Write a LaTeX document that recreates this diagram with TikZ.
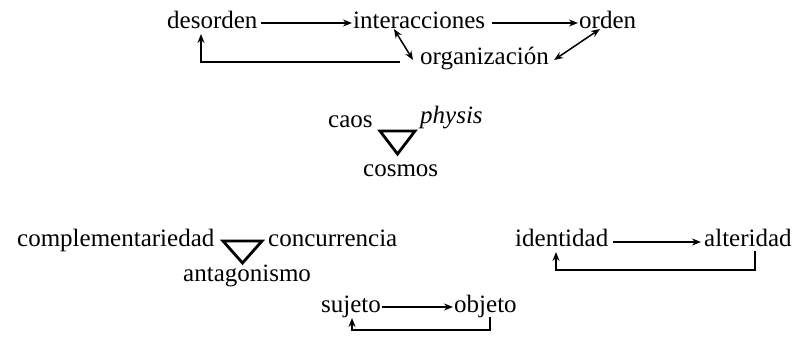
\documentclass[tikz,border=0pt]{standalone}
\usepackage{fontspec}
\setmainfont{Liberation Serif}
\usetikzlibrary{arrows.meta}
\begin{document}
\begin{tikzpicture}[x=1pt,y=-1pt,
  lbl/.style={anchor=base west,inner sep=0pt,font=\fontsize{25}{30}\selectfont},
  arr/.style={line width=1.5pt,-{Stealth[length=9pt,width=7pt]}},
  darr/.style={line width=1.5pt,{Stealth[length=9pt,width=7pt]}-{Stealth[length=9pt,width=7pt]}},
  tri/.style={line width=2.8pt,line join=miter}]
\useasboundingbox (0,0) rectangle (796,364);
% top group
\node[lbl] (des) at (167,28) {desorden};
\node[lbl] (int) at (353,28) {interacciones};
\node[lbl] (ord) at (579,28) {orden};
\node[lbl] (org) at (420,64) {organización};
\draw[arr] ([xshift=3pt,yshift=5pt]des.base east) -- ([xshift=-1pt,yshift=5pt]int.base west);
\draw[arr] ([xshift=7pt,yshift=5pt]int.base east) -- ([xshift=-1pt,yshift=5pt]ord.base west);
\draw[darr] ([xshift=41pt,yshift=-1pt]int.base west) -- ([xshift=-7pt,yshift=4pt]org.base west);
\draw[darr] ([xshift=5pt,yshift=4pt]org.base east) -- ([xshift=21pt,yshift=-1pt]ord.base west);
\draw[arr] ([xshift=-20pt,yshift=2pt]org.base west) -| ([xshift=34pt,yshift=-6pt]des.base west);
% caos / physis / cosmos
\node[lbl] (caos) at (328,127) {caos};
\node[lbl,font=\fontsize{25}{30}\selectfont\itshape] (phy) at (420,123) {physis};
\node[lbl] (cos) at (363,176) {cosmos};
\coordinate (ta1) at (380,131);
\coordinate (tb1) at (415,131);
\coordinate (tc1) at (397.5,154);
\draw[tri] (ta1) -- (tb1) -- (tc1) -- cycle;
% complementariedad group
\node[lbl] (comp) at (17,246) {complementariedad};
\node[lbl] (conc) at (268,246) {concurrencia};
\node[lbl] (ant) at (183,281) {antagonismo};
\coordinate (ta2) at (223,241);
\coordinate (tb2) at (262,241);
\coordinate (tc2) at (242.5,263);
\draw[tri] (ta2) -- (tb2) -- (tc2) -- cycle;
% identidad group
\node[lbl] (ide) at (515,246) {identidad};
\node[lbl] (alt) at (704,246) {alteridad};
\draw[arr] ([xshift=5pt,yshift=4pt]ide.base east) -- ([xshift=-3pt,yshift=4pt]alt.base west);
\draw[arr] ([xshift=51pt,yshift=-5pt]alt.base west) -- ([xshift=51pt,yshift=-24pt]alt.base west) -| ([xshift=41pt,yshift=-6pt]ide.base west);
% sujeto group
\node[lbl] (suj) at (321,312) {sujeto};
\node[lbl] (obj) at (454,312) {objeto};
\draw[arr] ([xshift=1pt,yshift=5pt]suj.base east) -- ([xshift=-1pt,yshift=5pt]obj.base west);
\draw[arr] ([xshift=36pt,yshift=-5pt]obj.base west) -- ([xshift=36pt,yshift=-18pt]obj.base west) -| ([xshift=31pt,yshift=-6pt]suj.base west);
\end{tikzpicture}
\end{document}
